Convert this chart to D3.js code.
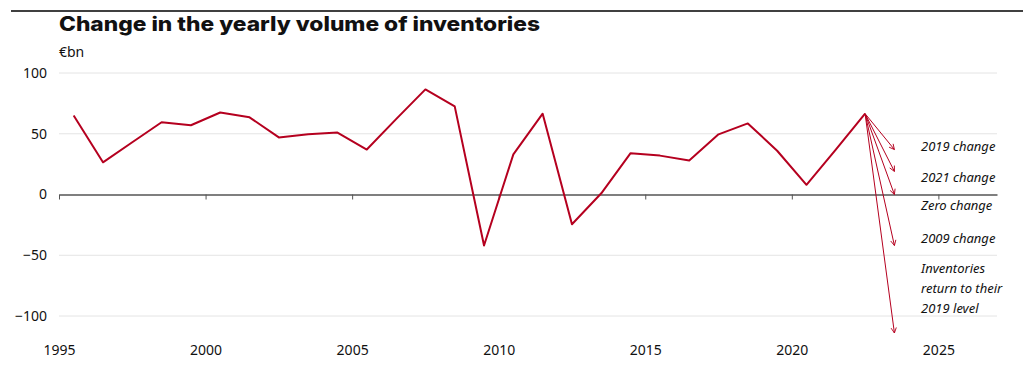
<!DOCTYPE html>
<html><head><meta charset="utf-8">
<script src="https://cdn.jsdelivr.net/npm/d3@7"></script>
<style>
body{margin:0;background:#fff;}
text{font-family:"Noto Sans",sans-serif;}
</style></head>
<body><svg id="c" width="1023" height="376"></svg>
<script>
const title = "Change in the yearly volume of inventories";
const unitLabel = "€bn";
const years = d3.range(1995, 2023);
const values = [65, 26.5, 43, 59.5, 57, 67.5, 63.5, 47, 49.5, 51, 37, 62, 86.5, 72.5, -42, 33, 66.5, -24.5, 1, 34, 32, 28, 49.5, 58.5, 36, 8, 37, 66.5];
const scenarioLabels = [["2019 change"], ["2021 change"], ["Zero change"], ["2009 change"], ["Inventories", "return to their", "2019 level"]];
const scenarioValues = [37, 19, 0, -42, -114];
const scenarioYear = 2023;
const yTicks = [-100, -50, 0, 50, 100];
const xTicks = [1995, 2000, 2005, 2010, 2015, 2020, 2025];

const svg = d3.select("#c");
const red = "#b5001f";
const x = d3.scaleLinear().domain([1995, 2027]).range([59, 997]);
const y = d3.scaleLinear().domain([-100, 100]).range([316, 73]);

// top rule
svg.append("line").attr("x1", 11).attr("x2", 1023).attr("y1", 11).attr("y2", 11)
  .attr("stroke", "#000").attr("stroke-width", 1.5);

svg.append("text").attr("x", 59).attr("y", 31).text(title)
  .attr("textLength", 481).attr("lengthAdjust", "spacingAndGlyphs")
  .style("font-family", "Inter, sans-serif").style("font-weight", 800).style("font-size", "20px").attr("fill", "#111");
svg.append("text").attr("x", 59).attr("y", 57).text(unitLabel)
  .style("font-size", "14px").attr("fill", "#111");

// grid
const yAxis = d3.axisLeft(y).tickValues(yTicks).tickSize(0).tickPadding(12).tickFormat(d3.format("d"));
const gy = svg.append("g").attr("transform", "translate(59,0)").call(yAxis);
gy.select(".domain").remove();
gy.selectAll("text").style("font-size", "14px").style("font-family", "'Noto Sans',sans-serif").attr("fill", "#111");
svg.append("g").selectAll("line").data(yTicks.filter(d => d !== 0)).join("line")
  .attr("x1", 59).attr("x2", 997).attr("y1", d => y(d)).attr("y2", d => y(d))
  .attr("stroke", "#e4e4e4").attr("stroke-width", 1);

// zero axis with ticks
const xAxis = d3.axisBottom(x).tickValues(xTicks).tickSize(5).tickSizeOuter(0).tickFormat(d3.format("d"));
const gx = svg.append("g").attr("transform", `translate(0,${y(0)})`).call(xAxis);
gx.select(".domain").attr("stroke", "#555").attr("stroke-width", 1.5);
gx.selectAll(".tick line").attr("stroke", "#555");
gx.selectAll("text").attr("y", 0).attr("dy", "0.35em")
  .attr("transform", `translate(0,${350 - y(0)})`)
  .style("font-size", "14px").style("font-family", "'Noto Sans',sans-serif").attr("fill", "#111");

// markers
svg.append("defs").append("marker").attr("id", "ah")
  .attr("viewBox", "0 0 8 8").attr("refX", 7).attr("refY", 4)
  .attr("markerWidth", 7).attr("markerHeight", 7).attr("orient", "auto")
  .attr("markerUnits", "userSpaceOnUse")
  .append("path").attr("d", "M1,1 L7,4 L1,7").attr("fill", "none").attr("stroke", red).attr("stroke-width", 1);

// line
const line = d3.line().x((d, i) => x(years[i] + 0.5)).y(d => y(d));
svg.append("path").datum(values).attr("d", line).attr("fill", "none")
  .attr("stroke", red).attr("stroke-width", 2).attr("stroke-linejoin", "round");

// scenario arrows
const lastYear = years[years.length - 1], lastVal = values[values.length - 1];
svg.append("g").selectAll("line").data(scenarioValues).join("line")
  .attr("x1", x(lastYear + 0.5)).attr("y1", y(lastVal))
  .attr("x2", x(scenarioYear + 0.5)).attr("y2", d => y(d))
  .attr("stroke", red).attr("stroke-width", 1).attr("marker-end", "url(#ah)");

const labelY = [146, 177, 205, 238, 268];
const lg = svg.append("g");
scenarioLabels.forEach((lines, i) => {
  lines.forEach((t, j) => {
    lg.append("text").attr("x", 921).attr("y", labelY[i] + j * 20).attr("dy", "0.35em")
      .text(t).style("font-size", "13px").style("font-style", "italic").attr("fill", "#111");
  });
});
</script></body></html>
